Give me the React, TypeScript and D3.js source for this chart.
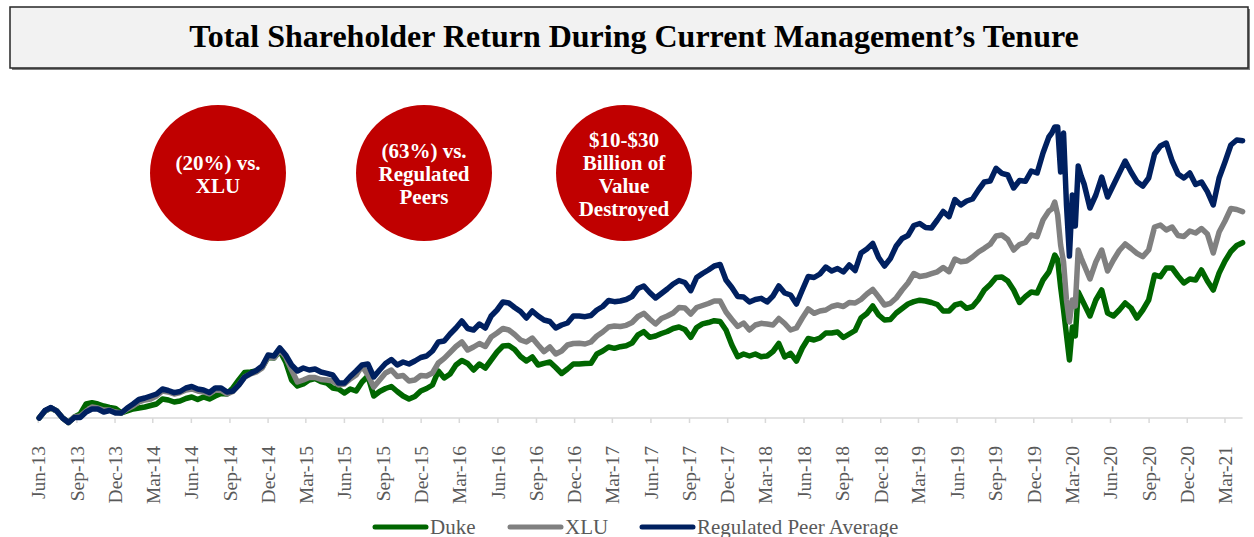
import React from 'react';
import * as d3 from 'd3';

// ---------- data ----------
const START_DATE = new Date(2013, 5, 3);
const AXIS_START = new Date(2013, 5, 1);
// week offsets of the samples (bi-weekly, weekly around the March-2020 crash)
const sampleWeeks: number[] = [
  ...d3.range(0, 345, 2),
  ...d3.range(345, 357),
  ...d3.range(358, 411, 2),
];
const dates: Date[] = sampleWeeks.map((w) => d3.timeDay.offset(START_DATE, w * 7));

// cumulative total shareholder return, %
const duke: number[] = [
  0, 4.2, 6, 4.2, 0, -2.7, 0.6, 2.4, 8.4, 9.2, 8.4, 7.2, 6.3, 5.7, 3, 4.2, 5.4, 6, 6.6, 7.5, 8.4, 11.4, 10.8, 9.6, 10.2, 11.7, 12.6, 11.1, 12.6, 11.4, 13.2, 14.7, 14.4, 18, 22.8, 27.3, 27.6, 28.2, 30.6, 36.6, 36, 40.2,
  33.6, 22.8, 19.2, 20.4, 22.8, 23.7, 21.9, 21, 18, 17.4, 15, 17.4, 16.2, 21.6, 25.2, 13.2, 15.9, 17.7, 18.9, 15.9, 13.2, 11.4, 12.9, 16.2, 17.7, 19.8, 28.2, 24, 26.4, 31.8, 34.5, 32.7, 28.8, 32.4, 30, 34.8, 39.6, 43.2, 43.5, 41.1, 36.9,
  34.2, 36.6, 31.8, 32.8, 33.6, 30.3, 26.7, 29.4, 32.4, 32.4, 32.7, 32.8, 38.4, 40.2, 42.6, 41.8, 42.8, 43.4, 45, 49.8, 51.8, 48.4, 49.2, 50.7, 51.9, 53.7, 54.6, 53.1, 48.4, 54.3, 56.5, 57.3, 58.4, 57.9, 52.8, 43.8, 36.8, 38.4, 37.2, 38.4, 36.8,
  37.2, 39.9, 44.7, 36.6, 38.8, 34.2, 42, 47.7, 46.8, 48, 51, 51, 51.6, 48.3, 50.4, 52.5, 60, 62.7, 67.2, 61.8, 58.8, 59.1, 63, 65.7, 68.4, 69.8, 70.7, 70.2, 69.3, 68.1, 64.2, 64.2, 67.8, 68.8, 65.8, 66.9, 71.1, 76.8, 80.1, 84.3, 84.6,
  82.2, 76.8, 69.3, 72.8, 75.6, 75, 82.8, 87.6,
  92.4, 97.8, 94.8, 78.6, 64.8, 49.8, 34.8, 54.6, 49.2, 75.6, 72, 68.4,
  61.2, 70.8, 76.8, 63, 61.2, 64.8, 69, 66, 60, 64.8, 70.8, 85.8, 84.8, 90, 90, 85.2, 81, 83.4, 82.8, 88.8, 82.2, 76.8, 87, 94.2, 99.9, 103.5, 105.2,
];

const xlu: number[] = [
  0, 4.2, 6, 4.2, 0, -2.7, 0.6, 1.2, 4.2, 6.6, 6, 4.8, 4.8, 3.6, 3, 5.4, 7.2, 9.6, 10.8, 11.4, 13.2, 16.2, 15.6, 14.4, 15.3, 16.8, 17.4, 16.2, 15.6, 14.4, 16.8, 16.5, 14.4, 15.9, 19.8, 24.6, 26.4, 27.6, 30, 36.6, 36, 40.8,
  36.6, 28.8, 21.6, 22.8, 24.3, 24.3, 23.1, 22.8, 22.2, 19.8, 20.4, 23.4, 25.8, 31.2, 25.8, 18.6, 22.8, 27, 28.8, 24.9, 25.5, 22.2, 22.8, 25.5, 25.2, 27, 33, 35.8, 39.3, 42.9, 45.6, 40.8, 42.6, 44.7, 42.9, 48.6, 51, 53.7, 52.8, 50.1, 46.8,
  45.6, 48, 43.8, 39.8, 42.6, 38.4, 40.2, 43.8, 44.7, 44.8, 44.4, 45.6, 49.2, 51.6, 54.6, 55.2, 54.9, 55.6, 57.3, 60.9, 62.8, 59.4, 56.4, 59.7, 61.2, 63, 66.3, 66, 62.4, 66.3, 67.5, 68.7, 70.2, 70.2, 63.6, 59.1, 54.9, 57, 52.8, 55.8, 56.8,
  56.4, 55.8, 59.7, 56.7, 52.8, 54, 60, 65.4, 62.8, 64.2, 64.8, 66.9, 67.8, 66.9, 69.3, 69, 71.1, 74.4, 77.1, 72.6, 67.8, 68.8, 72, 76.8, 81, 86.7, 84.9, 85.5, 86.6, 87.7, 90.3, 87.8, 95.4, 93.8, 94.2, 96.6, 99.6, 101.8, 104.2, 109.2, 109.8,
  107.1, 100.8, 104.1, 105.3, 109.8, 108.8, 118.8, 124.2,
  125.4, 129.6, 121.8, 103.8, 93.6, 70.8, 57.6, 70.8, 67.2, 100.8, 96, 91.8,
  83.4, 93.6, 100.8, 88.2, 94.8, 100.5, 104.4, 101.7, 98.8, 96.8, 100.8, 114.6, 115.8, 112.8, 114.6, 109.5, 108.9, 112.2, 111, 113.7, 110.4, 99, 111.6, 118.2, 125.7, 125.1, 123.8,
];

const peers: number[] = [
  0, 4.5, 6.3, 4.2, 0, -2.7, 0.3, 0.3, 3.6, 5.4, 5.4, 3.6, 4.5, 3, 3, 6, 8.4, 11.1, 12, 13.2, 14.4, 17.4, 16.5, 15.2, 15.9, 18, 18.9, 17.4, 16.8, 15.3, 18, 18, 15.6, 16.2, 19.8, 24.6, 26.7, 28.5, 31.2, 37.8, 37.2, 42,
  37.8, 31.8, 28.2, 30, 28.8, 29.4, 27.6, 26.8, 25.8, 21, 21, 24.9, 28.2, 31.8, 32.4, 24.6, 28.8, 32.7, 35.1, 31.8, 33.6, 32.4, 34.2, 36.3, 37.2, 40.2, 45.6, 46.2, 50.4, 54, 58.2, 53.7, 52.8, 56.4, 54, 61.2, 64.8, 69.6, 69, 66.3, 63.9,
  60, 64.2, 61.2, 58.8, 57.9, 54, 55.8, 57, 61.2, 61.2, 60.8, 61.5, 64.8, 66.9, 70.5, 69.8, 70.2, 71.1, 72.9, 77.7, 79.2, 75.3, 72, 74.7, 77.4, 80.4, 82.5, 81.3, 76.4, 84.3, 86.7, 88.8, 91.2, 92.1, 82.8, 78.3, 72.9, 72.6, 69.6, 71.1, 71.8,
  69.6, 73.2, 79.2, 75, 73.8, 68.4, 76.8, 84.9, 84.3, 86.4, 90.6, 88.2, 89.7, 87.6, 91.8, 88.5, 99, 101.4, 104.7, 96.3, 91.2, 95.7, 103.2, 107.7, 109.5, 115.5, 116.7, 114.3, 114, 118.8, 123.9, 120.8, 131.1, 127.8, 130.2, 131.4, 136.8, 141.6, 142.2, 149.8, 146.8,
  145.8, 138, 142.5, 142, 148.2, 147, 159, 168.6,
  171, 174.6, 174.6, 147.6, 171, 127.8, 97.2, 133.8, 115.2, 151.2, 145.2, 140.4,
  126, 133.8, 144.6, 132.6, 139.8, 147, 154.2, 147.6, 141.8, 139.2, 144, 158.4, 163.2, 165, 154.2, 146.4, 144, 147, 140.1, 141.6, 135.8, 127.8, 144, 153.6, 163.8, 166.8, 166.4,
];

const seriesNames = ['Duke', 'XLU', 'Regulated Peer Average'];
const seriesValues = [duke, xlu, peers];
const seriesColors = ['#006600', '#808080', '#002060'];

const bubbleTexts: string[][] = [
  ['(20%) vs.', 'XLU'],
  ['(63%) vs.', 'Regulated', 'Peers'],
  ['$10-$30', 'Billion of', 'Value', 'Destroyed'],
];
const TITLE = 'Total Shareholder Return During Current Management\u2019s Tenure';

// ---------- layout ----------
const W = 1254;
const H = 537;
const SERIF = "'Liberation Serif', 'Times New Roman', Times, serif";
const X0 = 38.3;
const X1 = 1242.6;
const AXIS_Y = 418;

export default function App() {
  const lastDate = dates[dates.length - 1];
  const xScale = d3.scaleTime().domain([AXIS_START, lastDate]).range([X0, X1]);
  const yScale = d3.scaleLinear().domain([0, 180]).range([AXIS_Y, AXIS_Y - 300]);
  const tickDates = d3.timeMonth.range(AXIS_START, d3.timeDay.offset(lastDate, 1), 3);
  const fmt = d3.timeFormat('%b-%y');

  const line = d3
    .line<number>()
    .x((_, i) => xScale(dates[i]))
    .y((d) => yScale(d))
    .curve(d3.curveLinear);

  const bubbleCx = [218, 424, 624];
  const bubbleCy = 173;
  const bubbleR = 68;
  const lineH = 23;

  const legendX = [373, 508, 640];

  return (
    <svg
      width={W}
      height={H}
      style={{ position: 'absolute', left: 0, top: 0, background: '#fff' }}
      fontFamily={SERIF}
    >
      {/* title box */}
      <rect x={12} y={9} width={1238} height={61} fill="#7f7f7f" />
      <rect x={10} y={7} width={1238} height={61} fill="#f2f2f2" stroke="#262626" strokeWidth={1.5} />
      <text x={634} y={47} textAnchor="middle" fontSize={32} fontWeight="bold" fill="#000">
        {TITLE}
      </text>

      {/* bubbles */}
      {bubbleTexts.map((lines, bi) => (
        <g key={bi}>
          <circle cx={bubbleCx[bi]} cy={bubbleCy} r={bubbleR} fill="#c00000" />
          {lines.map((t, li) => (
            <text
              key={li}
              x={bubbleCx[bi]}
              y={bubbleCy + 1 + (li - (lines.length - 1) / 2) * lineH}
              dy="0.35em"
              textAnchor="middle"
              fontSize={21}
              fontWeight="bold"
              fill="#fff"
            >
              {t}
            </text>
          ))}
        </g>
      ))}

      {/* x axis */}
      <line x1={X0 - 1} x2={X1} y1={AXIS_Y} y2={AXIS_Y} stroke="#d9d9d9" strokeWidth={1.5} />
      {tickDates.map((d, i) => (
        <g key={i} transform={`translate(${xScale(d)},0)`}>
          <line y1={AXIS_Y} y2={AXIS_Y + 5} stroke="#d9d9d9" strokeWidth={1.5} />
          <text
            transform={`translate(0,446) rotate(-90)`}
            textAnchor="end"
            dy="0.35em"
            fontSize={19.5}
            fill="#595959"
          >
            {fmt(d)}
          </text>
        </g>
      ))}

      {/* series */}
      {seriesValues.map((vals, si) => (
        <path
          key={si}
          d={line(vals) || ''}
          fill="none"
          stroke={seriesColors[si]}
          strokeWidth={5.5}
          strokeLinejoin="round"
          strokeLinecap="round"
        />
      ))}

      {/* legend */}
      {seriesNames.map((n, i) => (
        <g key={n}>
          <line
            x1={legendX[i] + 2}
            x2={legendX[i] + 53}
            y1={527}
            y2={527}
            stroke={seriesColors[i]}
            strokeWidth={5}
            strokeLinecap="round"
          />
          <text x={legendX[i] + 57} y={533.5} fontSize={21} fill="#595959">
            {n}
          </text>
        </g>
      ))}
    </svg>
  );
}
